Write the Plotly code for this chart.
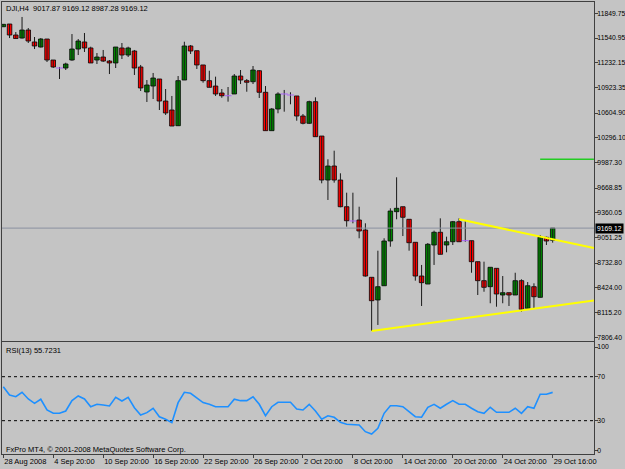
import plotly.graph_objects as go

# ---------------- data (DJI, H4) ----------------
opens = [11682, 11716, 11579, 11541, 11641, 11492, 11429, 11529, 11267, 11167,
         11167, 11267, 11404, 11492, 11417, 11267, 11304, 11254, 11230, 11417,
         11329, 11379, 11180, 10868, 10942, 11030, 10755, 10643, 10447, 11017,
         11442, 11383, 11205, 11009, 10942, 10855, 10821, 10843, 11067, 11009,
         10996, 11133, 10864, 10385, 10655, 10843, 10830, 10818, 10568, 10477,
         10747, 10318, 9769, 9944, 9769, 9436, 9258, 9270, 9145, 8555,
         8272, 8450, 9008, 9374, 9436, 9279, 8992, 8571, 8471, 8958,
         9117, 8958, 8999, 9249, 9012, 9012, 8750, 8513, 8438, 8667,
         8334, 8363, 8334, 8513, 8168, 8438, 8305, 9054, 9017.87]
highs = [11716, 11716, 11616, 11804, 11666, 11554, 11541, 11529, 11267, 11180,
         11233, 11591, 11529, 11604, 11433, 11354, 11392, 11267, 11429, 11479,
         11433, 11392, 11205, 11017, 11105, 11030, 10905, 10818, 11067, 11495,
         11454, 11383, 11205, 11133, 11059, 10905, 10930, 11092, 11142, 11030,
         11192, 11142, 10942, 10668, 10864, 10893, 10864, 10818, 10593, 10759,
         10801, 10318, 10028, 10135, 9853, 9611, 9611, 9436, 9229, 8555,
         8887, 9042, 9416, 9803, 9436, 9279, 8992, 8709, 8983, 9137,
         9291, 9062, 9258, 9291, 9258, 9012, 8750, 8750, 8680, 8667,
         8571, 8363, 8612, 8530, 8496, 8480, 9083, 9062, 9169.12]
lows = [11679, 11541, 11535, 11535, 11479, 11404, 11423, 11242, 11167, 11030,
        11142, 11258, 11329, 11367, 11230, 11217, 11242, 11092, 11167, 11279,
        11304, 11080, 10880, 10743, 10780, 10643, 10581, 10443, 10443, 11017,
        11342, 11155, 10984, 10926, 10818, 10796, 10747, 10843, 10967, 10871,
        10967, 10793, 10385, 10385, 10602, 10622, 10714, 10509, 10464, 10468,
        10310, 9728, 9520, 9736, 9429, 9187, 9229, 9042, 8563, 7885,
        7960, 8450, 8937, 9279, 9070, 8887, 8513, 8197, 8471, 8709,
        8842, 8867, 8958, 8999, 8999, 8612, 8334, 8375, 8231, 8188,
        8231, 8197, 8334, 8126, 8168, 8168, 8305, 8958, 8987.28]
closes = [11712, 11579, 11535, 11641, 11504, 11442, 11529, 11267, 11180, 11167,
          11217, 11404, 11504, 11417, 11230, 11304, 11254, 11230, 11429, 11329,
          11417, 11167, 10918, 10955, 11042, 10755, 10606, 10443, 11009, 11442,
          11379, 11205, 11009, 10926, 10843, 10821, 10821, 11067, 11017, 10989,
          11142, 10864, 10385, 10655, 10843, 10843, 10830, 10568, 10477, 10747,
          10310, 9769, 9944, 9769, 9436, 9261, 9258, 9133, 8571, 8263,
          8438, 9008, 9382, 9416, 9304, 8987, 8571, 8488, 8967, 9117,
          8842, 8999, 9249, 8999, 9012, 8750, 8513, 8430, 8680, 8347,
          8363, 8334, 8513, 8156, 8450, 8313, 9054, 9008, 9169.12]
rsi = [60.9, 53.4, 51.8, 55.8, 49.7, 45.8, 49.5, 39.7, 36.7, 36.7,
       38.8, 48.2, 52.5, 49.7, 42.7, 44.9, 44.3, 43.4, 51.3, 47.9,
       51.3, 41.8, 35.2, 37.3, 41.3, 33.6, 31.3, 28.2, 46.4, 55.8,
       54.9, 50.4, 46.4, 44.9, 42.7, 42.7, 42.7, 49.5, 48.2, 48.2,
       51.8, 44.9, 34.5, 42.7, 46.7, 46.7, 46.7, 40.6, 39.7, 44.9,
       38.8, 31.3, 34.5, 33.1, 28.5, 26.7, 26.7, 26.1, 20.0, 17.9,
       23.1, 36.7, 43.6, 43.6, 42.7, 38.2, 33.6, 33.1, 42.2, 44.9,
       41.3, 44.9, 48.2, 44.9, 44.9, 41.3, 38.2, 36.7, 42.2, 37.6,
       37.6, 37.6, 41.3, 36.7, 42.7, 41.3, 54.0, 54.0, 55.7231]

x_tick_bars = [0, 8, 16, 24, 32, 40, 48, 56, 64, 72, 80, 88]
x_tick_text = ["28 Aug 2008", "4 Sep 20:00", "10 Sep 20:00", "16 Sep 20:00",
               "22 Sep 20:00", "26 Sep 20:00", "2 Oct 20:00", "8 Oct 20:00",
               "14 Oct 20:00", "20 Oct 20:00", "24 Oct 20:00", "29 Oct 16:00"]
price_ticks = [11849.75, 11540.95, 11232.15, 10923.35, 10604.90, 10296.10, 9987.30,
               9668.85, 9360.05, 9051.25, 8732.80, 8424.00, 8115.20, 7806.40]
price_tick_text = ["11849.75", "11540.95", "11232.15", "10923.35", "10604.90", "10296.10",
                   "9987.30", "9668.85", "9360.05", "9051.25", "8732.80", "8424.00",
                   "8115.20", "7806.40"]
rsi_tick_vals = [97, 70, 30, 3]
rsi_tick_text = ["100", "70", "30", "0"]
rsi_levels = [70, 30]

trend_upper_x = [73, 94.6]
trend_upper_y = [9279, 8922]
trend_lower_x = [59, 94.6]
trend_lower_y = [7885, 8265]
green_level_x = [86, 94.6]
green_level_y = [10027, 10027]
last_price = 9169.12

# ---------------- figure ----------------
W, H = 625, 469
L, R, T, B = 2, 31, 2, 15
BG = "#c4c4c4"
FONT = "Liberation Sans"
n = len(opens)
xs = list(range(n))
XR = [-0.21, 94.62]

fig = go.Figure()

# wicks
wx, wy = [], []
for i in xs:
    wx += [i, i, None]
    wy += [lows[i], highs[i], None]
fig.add_trace(go.Scatter(x=wx, y=wy, mode="lines", line=dict(color="#1a1a1a", width=1),
                         hoverinfo="skip", xaxis="x", yaxis="y"))

bull = [i for i in xs if closes[i] > opens[i]]
bear = [i for i in xs if closes[i] < opens[i]]
doji = [i for i in xs if closes[i] == opens[i]]

for idx, col in ((bull, "#008800"), (bear, "#ff0000")):
    fig.add_trace(go.Bar(
        x=idx,
        base=[min(opens[i], closes[i]) for i in idx],
        y=[abs(closes[i] - opens[i]) for i in idx],
        width=0.72, opacity=1,
        marker=dict(color=col, line=dict(color="#000000", width=0.8)),
        xaxis="x", yaxis="y", hoverinfo="skip"))

fig.add_trace(go.Scatter(x=doji, y=[opens[i] for i in doji], mode="markers",
                         marker=dict(symbol="line-ew-open", size=5, line=dict(color="#000", width=1)),
                         xaxis="x", yaxis="y", hoverinfo="skip"))

# current price line
fig.add_trace(go.Scatter(x=XR, y=[last_price, last_price], mode="lines",
                         line=dict(color="#8a90a0", width=1), xaxis="x", yaxis="y", hoverinfo="skip"))
# trend lines
for tx, ty in ((trend_upper_x, trend_upper_y), (trend_lower_x, trend_lower_y)):
    fig.add_trace(go.Scatter(x=tx, y=ty, mode="lines", line=dict(color="#ffff00", width=2),
                             xaxis="x", yaxis="y", hoverinfo="skip"))
fig.add_trace(go.Scatter(x=green_level_x, y=green_level_y, mode="lines",
                         line=dict(color="#22cc22", width=1.5), xaxis="x", yaxis="y", hoverinfo="skip"))

# RSI
for lv in rsi_levels:
    fig.add_trace(go.Scatter(x=XR, y=[lv, lv], mode="lines",
                             line=dict(color="#000000", width=1, dash="3px,3px"),
                             xaxis="x2", yaxis="y2", hoverinfo="skip"))
fig.add_trace(go.Scatter(x=xs, y=rsi, mode="lines", line=dict(color="#1e90ff", width=1.6),
                         xaxis="x2", yaxis="y2", hoverinfo="skip"))

ph = H - T - B
main_bottom = (H - B - 340.5) / ph
rsi_top = (H - B - 341.5) / ph

axis_common = dict(showgrid=False, zeroline=False, showline=True, mirror=True,
                   linecolor="#404040", linewidth=1, automargin=False)

fig.update_layout(
    width=W, height=H, margin=dict(l=L, r=R, t=T, b=B, autoexpand=False),
    paper_bgcolor=BG, plot_bgcolor=BG, showlegend=False, barmode="overlay",
    font=dict(family=FONT, size=8, color="#000000"),
    xaxis=dict(domain=[0, 1], range=XR, anchor="y", showticklabels=False, ticks="",
               **axis_common),
    yaxis=dict(domain=[main_bottom, 1], range=[7766.3, 11990.8], side="right", anchor="x",
               tickvals=price_ticks, ticktext=price_tick_text, ticks="outside", ticklen=3,
               ticklabelstandoff=-2,
               tickcolor="#404040", tickfont=dict(family=FONT, size=6.8), **axis_common),
    xaxis2=dict(domain=[0, 1], range=XR, anchor="y2", tickvals=x_tick_bars, ticktext=x_tick_text,
                ticks="outside", ticklen=3, tickcolor="#404040", ticklabelposition="outside right",
                tickangle=0, tickfont=dict(family=FONT, size=7.5), **axis_common),
    yaxis2=dict(domain=[0, rsi_top], range=[-0.3, 102], side="right", anchor="x2",
                tickvals=rsi_tick_vals, ticktext=rsi_tick_text, ticks="outside", ticklen=3,
                ticklabelstandoff=-2,
                tickcolor="#404040", tickfont=dict(family=FONT, size=6.8), **axis_common),
)

def px_x(p):
    return (p - L) / (W - L - R)

def px_y(p):
    return (H - B - p) / ph

fig.add_annotation(x=px_x(4), y=px_y(8.5), xref="paper", yref="paper", xanchor="left",
                   yanchor="middle", showarrow=False,
                   text="DJI,H4  9017.87 9169.12 8987.28 9169.12",
                   font=dict(family=FONT, size=7.5, color="#000000"))
fig.add_annotation(x=px_x(4), y=px_y(350), xref="paper", yref="paper", xanchor="left",
                   yanchor="middle", showarrow=False, text="RSI(13) 55.7231",
                   font=dict(family=FONT, size=7.5, color="#000000"))
fig.add_annotation(x=px_x(4), y=px_y(449), xref="paper", yref="paper", xanchor="left",
                   yanchor="middle", showarrow=False,
                   text="FxPro MT4, © 2001-2008 MetaQuotes Software Corp.",
                   font=dict(family=FONT, size=7.5, color="#000000"))
fig.add_annotation(x=px_x(595), y=last_price, xref="paper", yref="y", xanchor="left",
                   yanchor="middle", showarrow=False, text="9169.12", bgcolor="#000000",
                   borderpad=1, font=dict(family=FONT, size=6.8, color="#ffffff"))

fig.write_html("out.html", config={"displayModeBar": False})
